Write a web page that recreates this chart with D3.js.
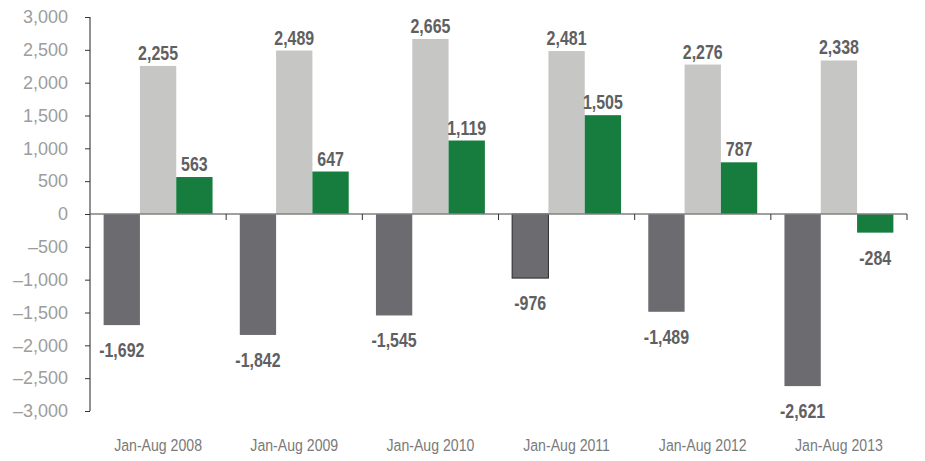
<!DOCTYPE html>
<html>
<head>
<meta charset="utf-8">
<script src="https://cdn.jsdelivr.net/npm/d3@7"></script>
<style>
  body { margin: 0; background: #fff; }
  text { font-family: "Liberation Sans", Arial, sans-serif; }
</style>
</head>
<body>
<svg id="chart" width="925" height="461"></svg>
<script>
const categories = ["Jan-Aug 2008", "Jan-Aug 2009", "Jan-Aug 2010", "Jan-Aug 2011", "Jan-Aug 2012", "Jan-Aug 2013"];
const seriesNames = ["A", "B", "C"];
const seriesA = [-1692, -1842, -1545, -976, -1489, -2621];
const seriesB = [2255, 2489, 2665, 2481, 2276, 2338];
const seriesC = [563, 647, 1119, 1505, 787, -284];
const yTicks = [3000, 2500, 2000, 1500, 1000, 500, 0, -500, -1000, -1500, -2000, -2500, -3000];
const colors = ["#6b6b70", "#c6c6c5", "#177d3e"];

const svg = d3.select("#chart");
const mLeft = 90, mRight = 907, mTop = 17, mBottom = 411;

const x0 = d3.scaleBand().domain(categories).range([mLeft, mRight]).paddingInner(0.2).paddingOuter(0.1);
const x1 = d3.scaleBand().domain(seriesNames).range([0, x0.bandwidth()]);
const y = d3.scaleLinear().domain([-3000, 3000]).range([mBottom, mTop]);

const allSeries = [seriesA, seriesB, seriesC];
const data = [];
categories.forEach((c, i) => {
  allSeries.forEach((s, j) => data.push({cat: c, ser: seriesNames[j], v: s[i], j}));
});

const locale = d3.formatLocale({decimal: ".", thousands: ",", grouping: [3], currency: ["", ""], minus: "-"});
const fmt = locale.format(",");

// bars
svg.append("g").selectAll("rect").data(data).join("rect")
  .attr("x", d => x0(d.cat) + x1(d.ser))
  .attr("width", x1.bandwidth())
  .attr("y", d => y(Math.max(0, d.v)))
  .attr("height", d => Math.abs(y(d.v) - y(0)))
  .attr("fill", d => colors[d.j])
  .attr("stroke", d => (d.cat === "Jan-Aug 2011" && d.j === 0) ? "#2a2a2a" : "none")
  .attr("stroke-width", 1);

// value labels
svg.append("g").selectAll("text").data(data).join("text")
  .attr("transform", d => {
    const tx = x0(d.cat) + x1(d.ser) + x1.bandwidth() / 2;
    const ty = d.v >= 0 ? y(d.v) - 6 : y(d.v) + 32;
    return `translate(${tx},${ty}) scale(0.76,1)`;
  })
  .attr("text-anchor", "middle")
  .attr("font-size", 21)
  .attr("font-weight", "bold")
  .attr("fill", "#5f6062")
  .text(d => fmt(d.v));

// x axis line (zero)
const xAxis = d3.axisBottom(x0).tickSize(0).tickFormat("");
const gx = svg.append("g").attr("transform", `translate(0,${y(0)})`).call(xAxis);
gx.select(".domain").attr("stroke", "#808080").attr("stroke-width", 1.5).attr("d", `M${mLeft},0H${mRight}`);
gx.selectAll(".tick").remove();
const boundaries = categories.map(c => x0(c) - x0.step() * x0.paddingInner() / 2 + x0.step());
gx.selectAll("line.b").data(boundaries).join("line")
  .attr("x1", d => d).attr("x2", d => d).attr("y1", 0).attr("y2", 6)
  .attr("stroke", "#333").attr("stroke-width", 1);

// category labels
svg.append("g").selectAll("text").data(categories).join("text")
  .attr("transform", d => `translate(${x0(d) + x0.bandwidth() / 2},451) scale(0.83,1)`)
  .attr("text-anchor", "middle")
  .attr("font-size", 17)
  .attr("fill", "#7a7a7a")
  .text(d => d);

// y axis
const yAxis = d3.axisLeft(y).tickValues(yTicks).tickSize(5).tickPadding(17).tickFormat(fmt);
const gy = svg.append("g").attr("transform", `translate(${mLeft},0)`).call(yAxis);
gy.select(".domain").attr("stroke", "#6d6d6d").attr("stroke-width", 1.5).attr("d", `M0,${mTop}V${mBottom}`);
gy.selectAll(".tick line").attr("stroke", "#333").attr("stroke-width", 1);
gy.selectAll(".tick text")
  .attr("font-size", 18)
  .attr("fill", "#9d9d9d")
  .style("font-family", "\"Liberation Sans\", Arial, sans-serif")
  .text(d => d < 0 ? "\u2013" + fmt(-d) : fmt(d));
</script>
</body>
</html>
